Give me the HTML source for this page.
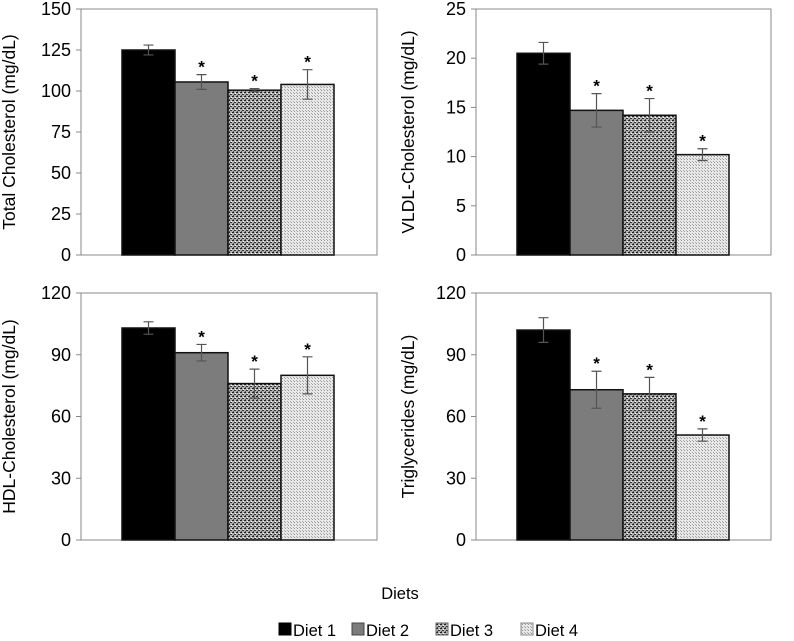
<!DOCTYPE html>
<html><head><meta charset="utf-8"><style>
body{margin:0;background:#fff;}
svg{display:block;font-family:"Liberation Sans",Arial,sans-serif;}
</style></head><body>
<svg id="chart" width="794" height="641" viewBox="0 0 794 641">
<defs>
<pattern id="p3" width="4" height="4" patternUnits="userSpaceOnUse">
<rect width="4" height="4" fill="#b0b0b0"/>
<rect x="0" y="0" width="2" height="1" fill="#222"/>
<rect x="2" y="2" width="2" height="1" fill="#333"/>
<rect x="1" y="3" width="1" height="1" fill="#555"/>
<rect x="3" y="1" width="1" height="1" fill="#fff"/>
</pattern>
<pattern id="p4" width="3" height="3" patternUnits="userSpaceOnUse">
<rect width="3" height="3" fill="#e8e8e8"/>
<rect x="0" y="0" width="1" height="1" fill="#999"/>
<rect x="2" y="2" width="1" height="1" fill="#aaa"/>
</pattern>
</defs>
<g id="panels"></g>
<text x="400" y="599" font-size="16.5" text-anchor="middle">Diets</text>
<g>
<rect x="279" y="623" width="12" height="12" fill="#000" stroke="#000"/>
<text x="293" y="636" font-size="16.5">Diet 1</text>
<rect x="352" y="623" width="12" height="12" fill="#7c7c7c" stroke="#444"/>
<text x="366" y="636" font-size="16.5">Diet 2</text>
<rect x="436" y="623" width="12" height="12" fill="url(#p3)" stroke="#666"/>
<text x="450" y="636" font-size="16.5">Diet 3</text>
<rect x="521" y="623" width="12" height="12" fill="url(#p4)" stroke="#888"/>
<text x="535" y="636" font-size="16.5">Diet 4</text>
</g>
</svg>
<script>
const categories = ["Diet 1","Diet 2","Diet 3","Diet 4"];
const tcValues = [125, 105.5, 100.5, 104];
const tcErrors = [3, 4.5, 1, 9];
const vldlValues = [20.5, 14.7, 14.2, 10.2];
const vldlErrors = [1.1, 1.7, 1.7, 0.6];
const hdlValues = [103, 91, 76, 80];
const hdlErrors = [3, 4, 7, 9];
const tgValues = [102, 73, 71, 51];
const tgErrors = [6, 9, 8, 3];
const tcTicks = [0,25,50,75,100,125,150];
const vldlTicks = [0,5,10,15,20,25];
const hdlTicks = [0,30,60,90,120];
const tgTicks = [0,30,60,90,120];
const sigFlags = [false,true,true,true];

const fills = ["#000","#7c7c7c","url(#p3)","url(#p4)"];
const NS = "http://www.w3.org/2000/svg";
const root = document.getElementById('panels');
function mk(tag, attrs, parent){const e=document.createElementNS(NS,tag);for(const k in attrs)e.setAttribute(k,attrs[k]);parent.appendChild(e);return e;}

function panel(name, title, values, errors, ticks, x0, x1, yTop, yBot, barStart, labelX){
  const g = mk('g',{},root);
  
  
  const max = ticks[ticks.length-1];
  const y = v => yBot - v/max*(yBot-yTop);
  const bw = 53;
  const xb = i => barStart + i*bw;
  const frame = mk('rect',{x:x0,y:yTop,width:x1-x0,height:yBot-yTop,fill:'none',stroke:'#888','stroke-width':1},g);
  
  
  ticks.forEach(t=>{
    mk('line',{x1:x0-5,x2:x0,y1:y(t),y2:y(t),stroke:'#888'},g);
    const tx = mk('text',{x:x0-10,y:y(t)+6,'font-size':18,'text-anchor':'end'},g);
    tx.textContent = t;
    
    
  });
  const yl = mk('text',{x:0,y:0,'font-size':17.5,'text-anchor':'middle',transform:`translate(${labelX},${(yTop+yBot)/2}) rotate(-90)`},g);
  yl.textContent = title;
  
  
  values.forEach((v,i)=>{
    const b = mk('rect',{x:xb(i),y:y(v),width:bw,height:yBot-y(v),fill:fills[i],stroke:'#111','stroke-width':1.5},g);
    
    
    const cx = xb(i)+bw/2, hi=y(v+errors[i]), lo=y(v-errors[i]);
    const eb = mk('path',{d:`M${cx},${hi}V${lo}M${cx-5},${hi}H${cx+5}M${cx-5},${lo}H${cx+5}`,stroke:'#555','stroke-width':1.2,fill:'none'},g);
    
    
    if(sigFlags[i]){
      const s = mk('text',{x:cx,y:hi-2,'font-size':17,'font-weight':'bold','text-anchor':'middle'},g);
      s.textContent='*';
      
      
    }
  });
}
panel('total-cholesterol','Total Cholesterol (mg/dL)',tcValues,tcErrors,tcTicks,81,377,9,255,122,15);
panel('vldl-cholesterol','VLDL-Cholesterol (mg/dL)',vldlValues,vldlErrors,vldlTicks,476,771,9,255,517,414);
panel('hdl-cholesterol','HDL-Cholesterol (mg/dL)',hdlValues,hdlErrors,hdlTicks,81,377,293,540,122,15);
panel('triglycerides','Triglycerides (mg/dL)',tgValues,tgErrors,tgTicks,476,771,293,540,517,414);
</script>
</body></html>
